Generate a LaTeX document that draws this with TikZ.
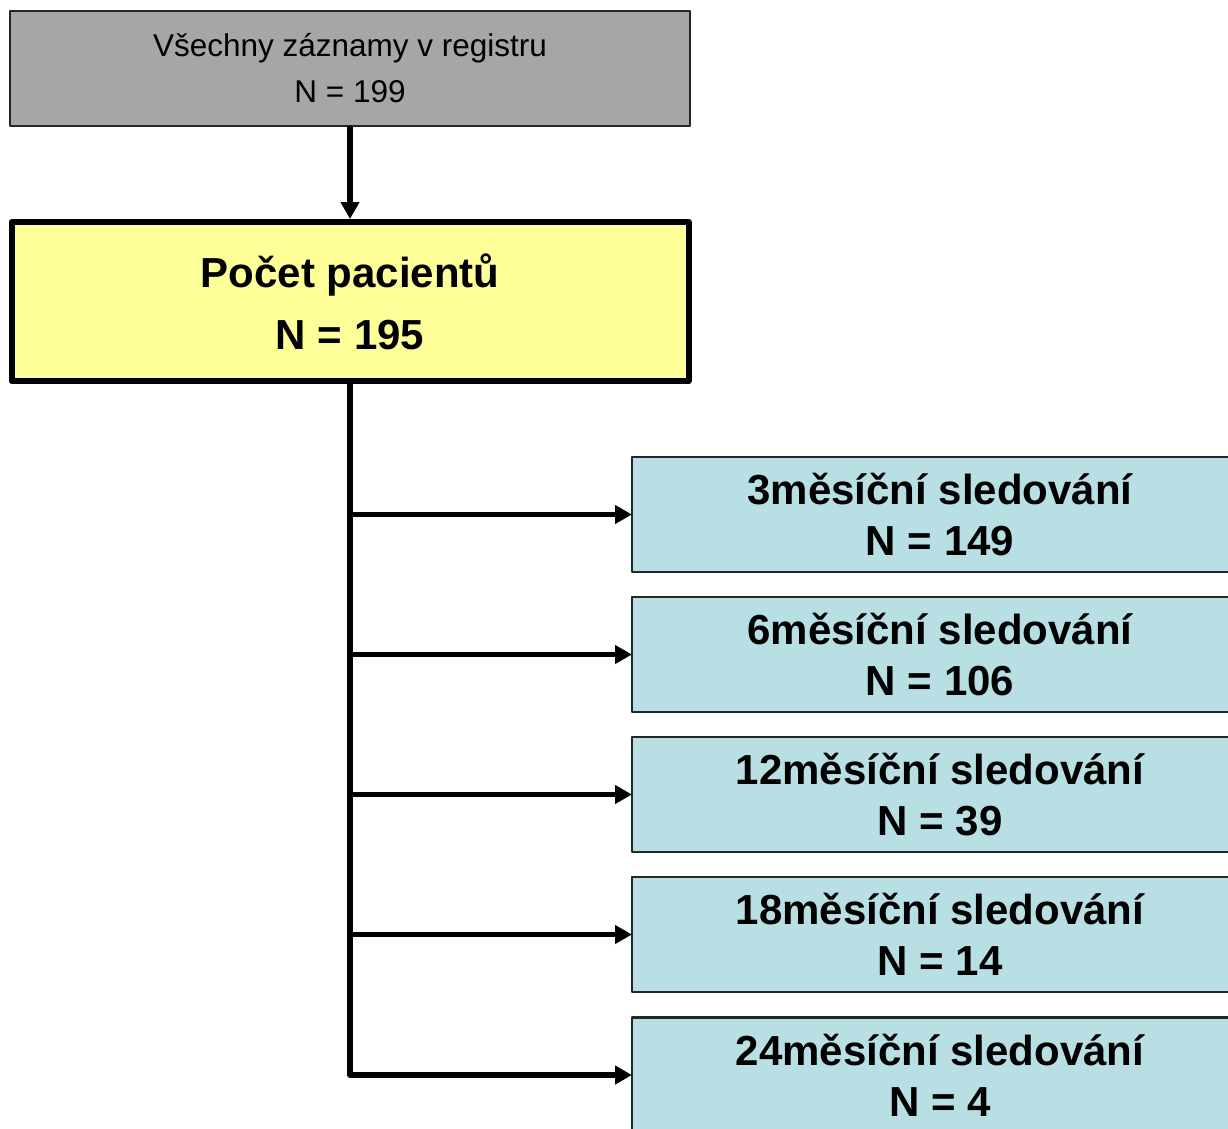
\documentclass[tikz,border=0pt]{standalone}
\usepackage{fontspec}
\setmainfont{Liberation Sans}
\usepackage{tikz}
\usetikzlibrary{arrows.meta}

\definecolor{boxgray}{RGB}{166,166,166}
\definecolor{boxyellow}{RGB}{255,255,153}
\definecolor{boxblue}{RGB}{183,223,228}

\begin{document}
\begin{tikzpicture}[x=1pt, y=1pt, line join=round,
        every node/.append style={inner sep=0pt, outer sep=0pt, align=center}]
      \tikzstyle{all} = [draw=black!85, line width=2.5pt, fill=boxgray,
        minimum width=680pt, minimum height=115pt,
        font=\fontsize{31.5}{46}\selectfont]
      \tikzstyle{total} = [draw=black, line width=6pt, fill=boxyellow,
        minimum width=677pt, minimum height=159pt,
        font=\fontsize{42}{62}\selectfont\bfseries]
      \tikzstyle{visit} = [draw=black!85, line width=2.5pt, fill=boxblue,
        minimum width=616pt, minimum height=115pt,
        font=\fontsize{42}{51}\selectfont\bfseries]
      \tikzstyle{flow} = [line width=5.5pt, -{Triangle[length=17pt,width=18pt]}]
      \useasboundingbox (0,0) rectangle (1228,-1128);
      % boxes
      \node (registr) [all] at (350,-68.5) {Všechny záznamy v registru\\N = 199};
      \node (pacienti) [total] at (350,-301.5) {Počet pacientů\\N = 195};
      \node (m3) [visit] at (940,-514.5) {3měsíční sledování\\N = 149};
      \node (m6) [visit] at (940,-654.5) {6měsíční sledování\\N = 106};
      \node (m12) [visit] at (940,-794.5) {12měsíční sledování\\N = 39};
      \node (m18) [visit] at (940,-934.5) {18měsíční sledování\\N = 14};
      \node (m24) [visit] at (940,-1075) {24měsíční sledování\\N = 4};
      % arrows
      \draw[flow] (registr.south) -- ([yshift=3pt]pacienti.north);
      \draw[flow] (pacienti.south) |- (m24.west);
      \draw[flow] (pacienti.south |- m3.west) -- (m3.west);
      \draw[flow] (pacienti.south |- m6.west) -- (m6.west);
      \draw[flow] (pacienti.south |- m12.west) -- (m12.west);
      \draw[flow] (pacienti.south |- m18.west) -- (m18.west);
    \end{tikzpicture}
\end{document}
